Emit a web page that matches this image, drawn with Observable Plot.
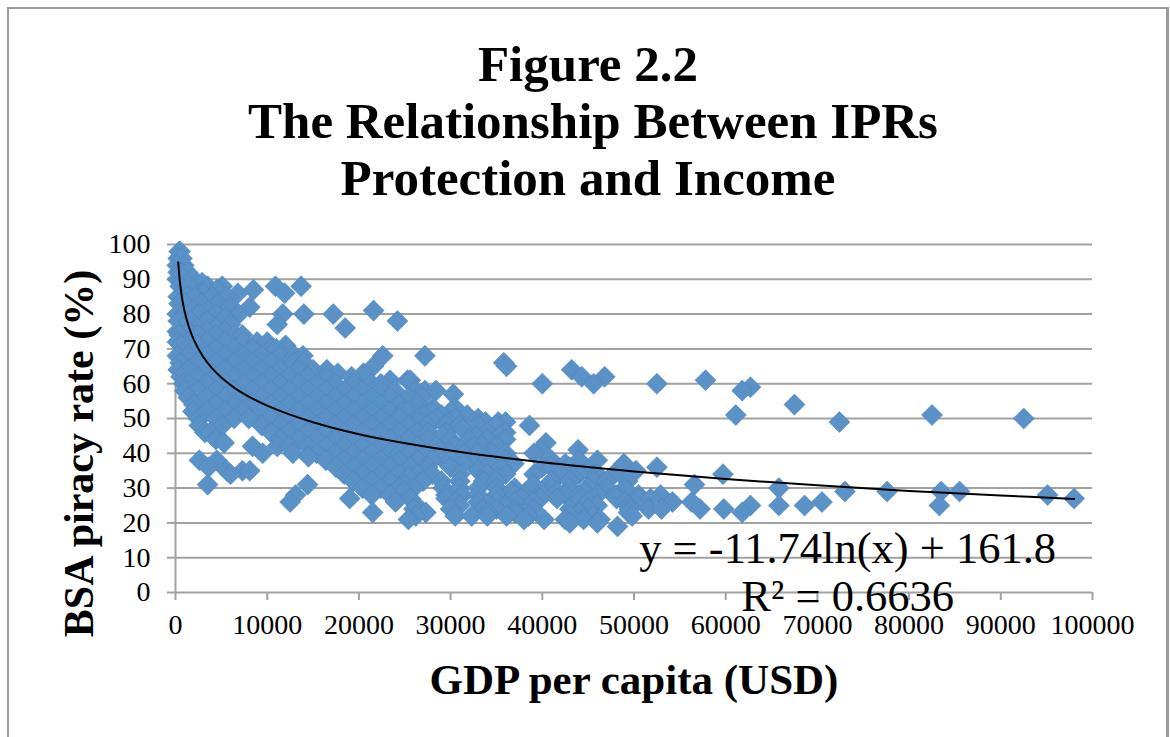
<!DOCTYPE html>
<html>
<head>
<meta charset="utf-8">
<script src="https://cdn.jsdelivr.net/npm/d3@7"></script>
<script src="https://cdn.jsdelivr.net/npm/@observablehq/plot@0.6"></script>
<style>
html,body{margin:0;padding:0;background:#fff;}
#frame{position:absolute;left:7px;top:7px;width:1162px;height:730px;border:2px solid #9a9a9a;border-right-width:3px;border-bottom:none;box-sizing:border-box;}
#title{position:absolute;left:0;top:36px;width:1176px;text-align:center;font:bold 51px/57px "Liberation Serif",serif;color:#000;}
#title span{position:relative;left:5px;}
#chart{position:absolute;left:0;top:210px;}
#page{position:relative;width:1170px;height:737px;overflow:hidden;}
</style>
</head>
<body>
<div id="page">
<div id="frame"></div>
<div id="title">Figure 2.2<br><span>The Relationship Between IPRs</span><br>Protection and Income</div>
<div id="chart"></div>
</div>
<script>
// GDP per capita (thousand USD), read row by row at each BSA piracy rate.
const r98=[0.4,0.5];
const r96=[0.3,0.7];
const r94=[0.2,0.9];
const r92=[0.3,0.6,1.3];
const r90=[0.2,1.0,1.8];
const r89=[2.4,2.9];
const r88=[0.5,1.5,3.5,5.1,10.9,13.7];
const r87=[4.5,8.5];
const r86=[3.0,6.8,11.9];
const r85=[0.3,1.3,2.1,4.0,5.6];
const r83=[0.4,1.0,2.8,4.6];
const r82=[6.0,8.1];
const r81=[1.9,3.6,21.6];
const r80=[0.2,1.0,2.6,4.4,6.9,11.7,14.0,17.2];
const r79=[5.4];
const r78=[0.3,1.6,3.4,24.2];
const r77=[6.0,11.1];
const r76=[0.8,2.4,4.4,18.5];
const r75=[0.2,1.4,3.4,5.4];
const r74=[0.4,2.4,4.4,6.5,7.3];
const r72=[0.2,1.4,3.4,5.4,7.4,8.9,10.0];
const r71=[0.6,2.4,12.0];
const r70=[4.4,6.4,8.4,10.4,11.0];
const r68=[0.2,1.4,3.4,5.4,7.4,9.4,11.4,13.0,13.9,22.6,27.2];
const r66=[0.5,2.4,4.4,6.4,8.4,10.4,12.4,12.9,14.0,35.8];
const r65=[21.6,36.1];
const r64=[0.3,1.4,3.4,5.4,7.4,9.4,11.4,13.4,15.0,16.5,43.2];
const r63=[17.7,20.5];
const r62=[0.6,2.4,4.4,6.4,8.4,10.4,12.4,14.4,16.4,19.2,44.3,46.8];
const r61=[23.4,25.3,25.6,57.8];
const r60=[0.9,1.4,3.4,5.4,7.4,9.4,11.4,13.4,15.4,17.4,19.4,21.4,22.4,40.0,45.6,52.5];
const r59=[62.7];
const r58=[1.0,2.4,4.4,6.4,8.4,10.4,12.4,14.4,16.4,18.4,20.4,22.4,23.9,26.2,27.2,28.4,61.8];
const r57=[30.3];
const r56=[1.4,3.4,5.4,7.4,9.4,11.4,13.4,15.4,17.4,19.4,21.4,23.4,25.4,26.9];
const r54=[2.0,4.4,6.4,8.4,10.4,12.4,14.4,16.4,18.4,20.4,22.4,24.4,26.5,67.5];
const r53=[28.1,30.5];
const r52=[1.9,3.4,5.4,7.4,9.4,11.4,13.4,15.4,17.4,19.4,21.4,23.4,24.9,25.4,27.9,30.0];
const r51=[27.0,29.0,31.8,61.1,82.5];
const r50=[2.5,4.4,6.4,8.0,10.4,12.4,14.4,16.4,18.4,20.4,22.4,24.4,26.4,28.5,30.5,33.0,92.5];
const r49=[26.4,28.0,29.7,33.8,35.2,36.0,72.4];
const r48=[2.6,5.1,9.4,11.4,13.4,15.4,17.4,19.4,21.4,23.4,25.4,27.4,29.5,31.0,33.0,35.0,38.6];
const r47=[31.3];
const r46=[3.2,3.8,10.4,12.4,14.4,16.4,18.4,20.4,22.4,24.4,26.4,27.6,29.5,34.0,36.0];
const r45=[29.1,32.7,35.4];
const r44=[4.4,11.4,13.4,15.4,17.4,19.4,21.4,23.4,25.4,27.5,30.0,32.0,34.0,36.0];
const r43=[5.3,40.4];
const r42=[8.4,11.1,12.4,14.4,16.4,18.4,20.4,22.4,24.4,26.4,28.4,30.4,32.5,33.5,35.0];
const r41=[39.8,43.9];
const r40=[9.5,12.8,15.4,17.4,19.4,21.4,23.4,24.5,25.6,27.4,30.0,31.5,33.0,34.5,36.0,39.1];
const r39=[14.5,28.9];
const r38=[2.6,4.5,16.4,18.4,20.4,22.4,24.4,26.4,28.0,30.0,32.0,34.0,36.0,41.0,44.0,46.0];
const r37=[31.4,34.3,36.9,42.5,48.9];
const r36=[3.6,17.5,19.4,21.4,23.4,25.6,27.5,30.0,35.5,40.0,41.0,43.0,52.5];
const r35=[5.6,7.3,8.1,27.3,33.0,45.0,50.2];
const r34=[6.0,18.4,20.4,22.4,24.4,26.4,28.0,31.0,34.0,36.0,39.1,42.0,44.0,46.0,47.8,59.7];
const r33=[25.4,35.1,43.4];
const r32=[19.4,21.4,23.4,27.0,29.0,31.0,33.6,35.0,41.0,43.0,45.6,47.0,49.3];
const r31=[3.5,14.4,25.0,39.0,56.6];
const r30=[20.4,22.4,24.4,26.0,29.2,31.0,33.0,35.0,37.0,41.0,43.0,45.0,47.0,49.0,65.8];
const r29=[24.9,36.6,40.0,41.6,44.5,73.0,77.6,83.5,85.5];
const r28=[13.1,21.4,23.4,29.5,31.3,33.0,35.0,37.0,38.0,40.0,42.5,44.0,46.0,48.0,50.5,52.9,95.1];
const r27=[19.0,25.6,29.5,37.8,39.8,41.6,44.0,48.1,50.5,51.8,98.0];
const r26=[12.5,24.0,30.5,33.0,35.0,37.0,39.0,43.9,45.0,49.0,54.2,56.3,70.5];
const r25=[26.3,31.0,34.2,36.0,46.0,49.4,62.7,65.8,68.6,83.3];
const r24=[26.0,30.0,33.5,35.0,37.0,39.0,43.0,45.0,49.5,51.6,53.0,57.2,59.8];
const r23=[21.5,27.3,34.0,37.0,44.0,49.4,61.8];
const r22=[26.2,30.5,32.3,34.0,36.1,38.5,43.0,45.5,49.8];
const r21=[25.4,38.0,40.2,42.5,44.5,46.3];
const r20=[43.0,46.0];
const r19=[48.2];

const rates=[98,96,94,92,90,89,88,87,86,85,83,82,81,80,79,78,77,76,75,74,72,71,70,68,66,65,64,63,62,61,60,59,58,57,56,54,53,52,51,50,49,48,47,46,45,44,43,42,41,40,39,38,37,36,35,34,33,32,31,30,29,28,27,26,25,24,23,22,21,20,19];
const rows=[r98,r96,r94,r92,r90,r89,r88,r87,r86,r85,r83,r82,r81,r80,r79,r78,r77,r76,r75,r74,r72,r71,r70,r68,r66,r65,r64,r63,r62,r61,r60,r59,r58,r57,r56,r54,r53,r52,r51,r50,r49,r48,r47,r46,r45,r44,r43,r42,r41,r40,r39,r38,r37,r36,r35,r34,r33,r32,r31,r30,r29,r28,r27,r26,r25,r24,r23,r22,r21,r20,r19];
const points=rows.flatMap((row,i)=>row.map(k=>({gdp:k*1000,rate:rates[i]})));

// Trend line.
const trendGdp =[300,400,500,700,1000,1500,2000,3000,4000,5000,7000,10000,15000,20000,30000,40000,50000,60000,70000,80000,90000,98000];
const trendRate=[94.8,91.5,88.8,84.9,80.7,76,72.6,67.8,64.4,61.8,57.8,53.7,48.9,45.5,40.8,37.4,34.8,32.6,30.8,29.2,27.9,26.9];
const trend=trendGdp.map((g,i)=>({gdp:g,rate:trendRate[i]}));

const xTicks=[0,10000,20000,30000,40000,50000,60000,70000,80000,90000,100000];
const yTicks=[0,10,20,30,40,50,60,70,80,90,100];
const serif='"Liberation Serif",serif';
const grey="#a2a2a2";

const plot=Plot.plot({
  width:1170,height:527,
  marginLeft:175,marginRight:78,marginTop:34,marginBottom:145,
  style:{background:"transparent",fontFamily:serif,overflow:"visible"},
  x:{domain:[0,100000]},
  y:{domain:[0,100]},
  marks:[
    Plot.ruleY(yTicks,{stroke:grey,strokeWidth:2}),
    Plot.ruleX([0],{stroke:grey,strokeWidth:2}),
    Plot.axisY({ticks:yTicks,tickSize:8,tickPadding:17,stroke:grey,strokeWidth:2,fontSize:28,fill:"#000",label:null,tickFormat:d=>String(d)}),
    Plot.axisX({ticks:xTicks,tickSize:8,tickPadding:14,stroke:grey,strokeWidth:2,fontSize:28,fill:"#000",label:null,tickFormat:d=>String(d)}),
    Plot.dot(points,{x:"gdp",y:"rate",symbol:"diamond2",r:9.5,fill:"#5a92c8",stroke:"#4b80b6",strokeWidth:0.5}),
    Plot.line(trend,{x:"gdp",y:"rate",curve:"catmull-rom",stroke:"#000",strokeWidth:2}),
    Plot.text(["y = -11.74ln(x) + 161.8"],{x:73300,y:12.7,textAnchor:"middle",lineAnchor:"middle",fontSize:44.5,fill:"#000"}),
    Plot.text(["R² = 0.6636"],{x:73300,y:-1.2,textAnchor:"middle",lineAnchor:"middle",fontSize:44.5,fill:"#000"}),
    Plot.text(["GDP per capita (USD)"],{frameAnchor:"bottom",dy:88,lineAnchor:"middle",fontSize:43,fontWeight:"bold",fill:"#000"}),
    Plot.text(["BSA piracy rate (%)"],{frameAnchor:"left",dx:-96,dy:35,rotate:-90,textAnchor:"middle",lineAnchor:"middle",fontSize:42,fontWeight:"bold",fill:"#000"})
  ]
});
document.getElementById("chart").appendChild(plot);
</script>
</body>
</html>
